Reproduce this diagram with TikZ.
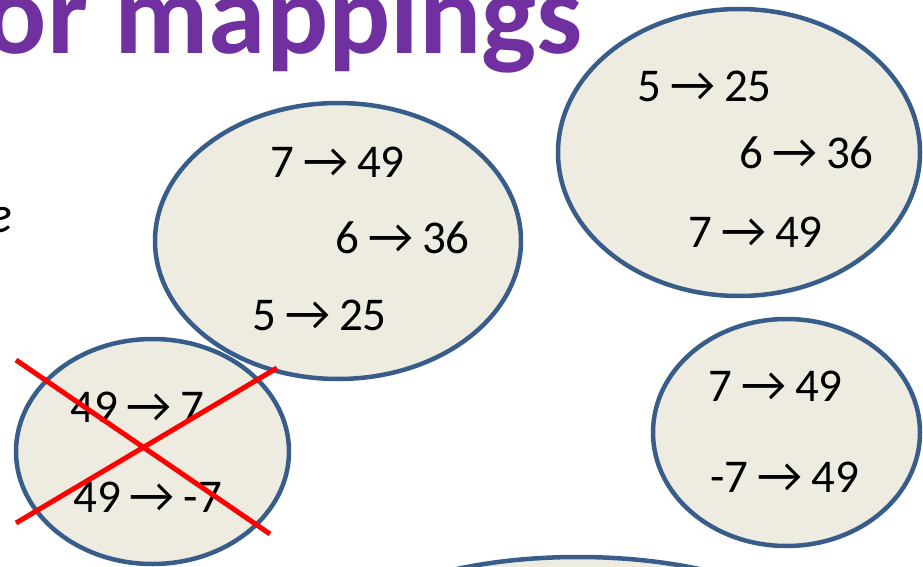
\documentclass[tikz,border=0pt]{standalone}
\usepackage{fontspec}
\setmainfont{Carlito}
\newfontfamily\arrowfont{Lato}
\newcommand{\arr}{\hspace{8pt}{\arrowfont →}\hspace{8pt}}
\usetikzlibrary{shapes.geometric}
\definecolor{titlepurple}{HTML}{7030A0}
\definecolor{blobline}{HTML}{385D8A}
\definecolor{blobfill}{HTML}{EEECE1}
\tikzset{
  blob/.style={ellipse, draw=blobline, fill=blobfill, line width=4.5pt, inner sep=0pt},
  maptext/.style={anchor=base west, inner sep=0pt, font=\fontsize{47}{56}\selectfont},
  crossline/.style={draw=red, line width=5pt}
}
\begin{document}
\begin{tikzpicture}[x=1pt,y=-1pt]
\useasboundingbox (0,0) rectangle (923,567);
\begin{scope}
\clip (0,0) rectangle (923,567);
% title
\node[anchor=base east, inner sep=0pt, text=titlepurple, font=\fontsize{116}{120}\selectfont\bfseries] (title) at (583,54) {or mappings};
\node[anchor=base east, inner sep=0pt, font=\fontsize{52}{60}\selectfont\itshape] (frag) at (13,232) {e};
% ellipses
\node[blob, minimum width=366pt, minimum height=276pt] (e1) at (338,241) {};
\node[blob, minimum width=362pt, minimum height=287pt] (e2) at (739,152.5) {};
\node[blob, minimum width=267pt, minimum height=227pt] (e3) at (786.5,432.5) {};
\node[blob, minimum width=273pt, minimum height=225pt] (e4) at (152.5,451.5) {};
\node[blob, minimum width=510pt, minimum height=200pt] (e5) at (578,657) {};
% texts ellipse 1
\node[maptext] (a1) at (270,177) {7\arr{}49};
\node[maptext] (a2) at (335,253) {6\arr{}36};
\node[maptext] (a3) at (252,330) {5\arr{}25};
% texts ellipse 2
\node[maptext] (b1) at (637,102) {5\arr{}25};
\node[maptext] (b2) at (739,168) {6\arr{}36};
\node[maptext] (b3) at (688,247) {7\arr{}49};
% texts ellipse 3
\node[maptext] (c1) at (708,401) {7\arr{}49};
\node[maptext] (c2) at (710,492) {-7\arr{}49};
% texts ellipse 4
\node[maptext] (d1) at (70,422) {49\arr{}7};
\node[maptext] (d2) at (73,512) {49\arr{}-7};
% cross
\coordinate (x1) at (16,360);
\coordinate (x2) at (270,534);
\coordinate (x3) at (16,523);
\coordinate (x4) at (277,368);
\draw[crossline] (x1) -- (x2);
\draw[crossline] (x3) -- (x4);
\end{scope}
\end{tikzpicture}
\end{document}
